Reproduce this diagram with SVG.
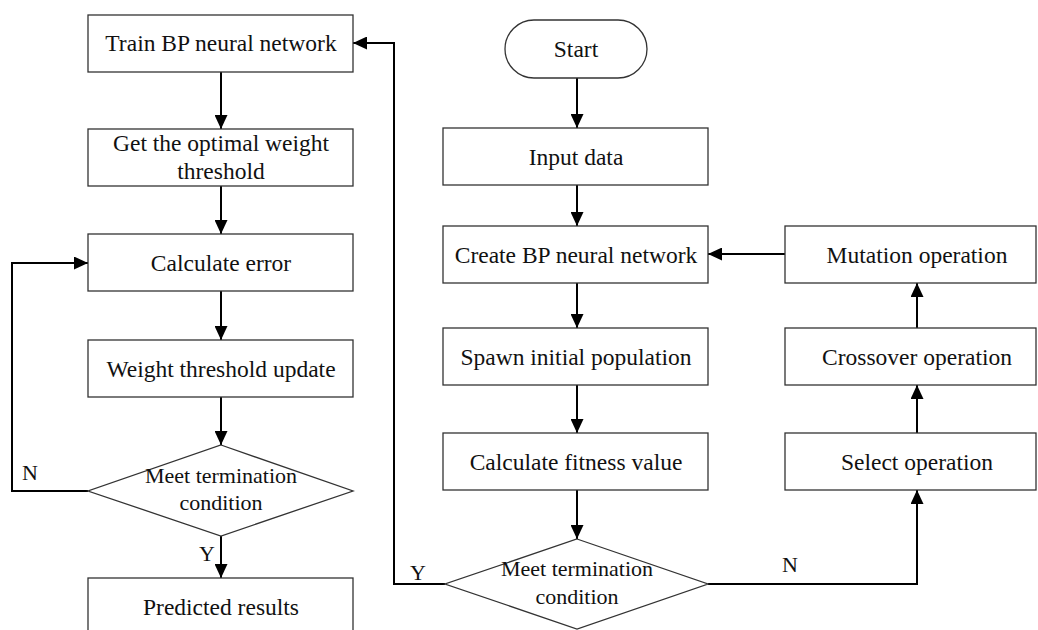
<svg xmlns="http://www.w3.org/2000/svg" width="1038" height="630" viewBox="0 0 1038 630">
  <style>
    .box { fill: #fff; stroke: #333; stroke-width: 1.3; }
    .lbl { font-family: "Liberation Serif", "Times New Roman", serif; font-size: 23.5px; fill: #111; text-anchor: middle; }
    .dlbl { font-family: "Liberation Serif", "Times New Roman", serif; font-size: 22px; fill: #111; text-anchor: middle; }
    .yn { font-family: "Liberation Serif", "Times New Roman", serif; font-size: 22px; fill: #111; }
    .edge { fill: none; stroke: #000; stroke-width: 2; marker-end: url(#arrow); }
    .plain { fill: none; stroke: #000; stroke-width: 2; }
  </style>
  <defs>
    <marker id="arrow" markerUnits="userSpaceOnUse" markerWidth="14" markerHeight="13" refX="14" refY="6.5" orient="auto">
      <path d="M0,0 L14,6.5 L0,13 z" fill="#000"/>
    </marker>
  </defs>
  <rect width="1038" height="630" fill="#fff"/>

  <!-- connectors -->
  <g id="connectors">
    <path class="edge" d="M221,72 V129"/>
    <path class="edge" d="M221,186 V234"/>
    <path class="edge" d="M221,291 V340"/>
    <path class="edge" d="M221,397 V445"/>
    <path class="edge" d="M221,536 V578"/>
    <path class="edge" d="M88,491 H12 V263 H88"/>
    <path class="edge" d="M577,78 V128"/>
    <path class="edge" d="M577,185 V226"/>
    <path class="edge" d="M577,283 V328"/>
    <path class="edge" d="M577,385 V433"/>
    <path class="edge" d="M577,490 V539"/>
    <path class="edge" d="M445,584 H394 V43 H353"/>
    <path class="edge" d="M708,584 H917 V490"/>
    <path class="edge" d="M917,433 V385"/>
    <path class="edge" d="M917,328 V283"/>
    <path class="edge" d="M785,254 H708"/>
    <text class="yn" x="22" y="480">N</text>
    <text class="yn" x="199" y="561">Y</text>
    <text class="yn" x="410" y="580">Y</text>
    <text class="yn" x="782" y="572">N</text>
  </g>

  <!-- left column: BP training -->
  <g id="train">
    <rect class="box" x="88" y="15" width="265" height="57"/>
    <text class="lbl" x="221" y="51">Train BP neural network</text>
  </g>
  <g id="optimal">
    <rect class="box" x="88" y="129" width="265" height="57"/>
    <text class="lbl" x="221" y="151">Get the optimal weight</text>
    <text class="lbl" x="221" y="179">threshold</text>
  </g>
  <g id="calc-error">
    <rect class="box" x="88" y="234" width="265" height="57"/>
    <text class="lbl" x="221" y="271">Calculate error</text>
  </g>
  <g id="weight-update">
    <rect class="box" x="88" y="340" width="265" height="57"/>
    <text class="lbl" x="221" y="377">Weight threshold update</text>
  </g>
  <g id="check-left">
    <polygon class="box" points="221,445 353,491 221,536 88,491"/>
    <text class="dlbl" x="221" y="483">Meet termination</text>
    <text class="dlbl" x="221" y="510">condition</text>
  </g>
  <g id="predicted">
    <rect class="box" x="88" y="578" width="265" height="60"/>
    <text class="lbl" x="221" y="615">Predicted results</text>
  </g>

  <!-- middle column: GA setup -->
  <g id="start">
    <rect class="box" x="505" y="20" width="142" height="58" rx="29" ry="29"/>
    <text class="lbl" x="576" y="57">Start</text>
  </g>
  <g id="input">
    <rect class="box" x="443" y="128" width="265" height="57"/>
    <text class="lbl" x="576" y="165">Input data</text>
  </g>
  <g id="create">
    <rect class="box" x="443" y="226" width="265" height="57"/>
    <text class="lbl" x="576" y="263">Create BP neural network</text>
  </g>
  <g id="spawn">
    <rect class="box" x="443" y="328" width="265" height="57"/>
    <text class="lbl" x="576" y="365">Spawn initial population</text>
  </g>
  <g id="fitness">
    <rect class="box" x="443" y="433" width="265" height="57"/>
    <text class="lbl" x="576" y="470">Calculate fitness value</text>
  </g>
  <g id="check-mid">
    <polygon class="box" points="577,539 708,584 577,629 445,584"/>
    <text class="dlbl" x="577" y="576">Meet termination</text>
    <text class="dlbl" x="577" y="604">condition</text>
  </g>

  <!-- right column: genetic operators -->
  <g id="mutation">
    <rect class="box" x="785" y="226" width="251" height="57"/>
    <text class="lbl" x="917" y="263">Mutation operation</text>
  </g>
  <g id="crossover">
    <rect class="box" x="785" y="328" width="251" height="57"/>
    <text class="lbl" x="917" y="365">Crossover operation</text>
  </g>
  <g id="select">
    <rect class="box" x="785" y="433" width="251" height="57"/>
    <text class="lbl" x="917" y="470">Select operation</text>
  </g>
</svg>
